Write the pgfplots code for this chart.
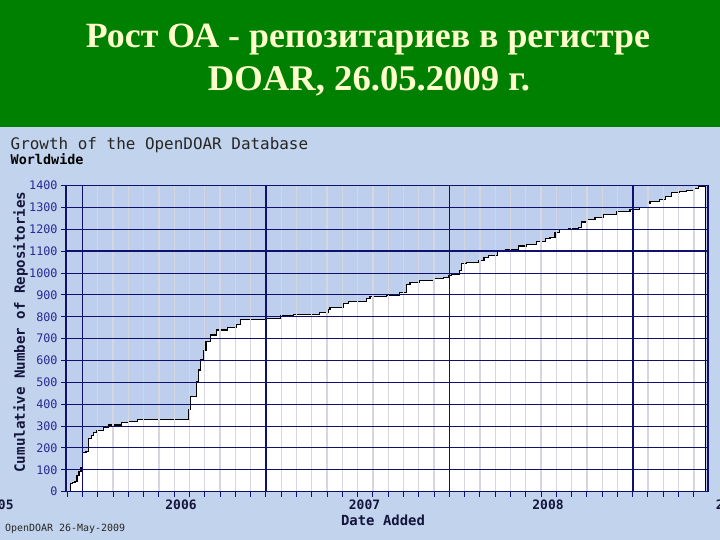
\documentclass[border=0pt]{standalone}
\usepackage{pgfplots}
\usepackage{pgfplotstable}
\pgfplotsset{compat=1.18}
\usepackage{fontspec}
\setmainfont{Liberation Serif}
\newfontfamily\monofont{DejaVu Sans Mono}
\newcommand\mono[1]{\monofont\fontsize{#1}{#1}\selectfont}

\definecolor{slidegreen}{RGB}{0,128,0}
\definecolor{titleyellow}{RGB}{255,255,204}
\definecolor{bgblue}{RGB}{194,212,237}
\definecolor{plotblue}{RGB}{189,207,236}
\definecolor{gridnavy}{RGB}{16,16,110}
\definecolor{minorgrey}{RGB}{214,214,222}
\definecolor{ticktext}{RGB}{40,40,150}
\definecolor{labeltext}{RGB}{20,20,60}

% cumulative number of repositories (x in years)
\pgfplotstableread{
x y
2005.395 0
2005.398 36
2005.409 41
2005.422 45
2005.433 74
2005.444 93
2005.455 112
2005.463 178
2005.482 185
2005.496 244
2005.510 259
2005.522 270
2005.541 280
2005.577 292
2005.604 305
2005.677 316
2005.713 321
2005.762 330
2006.040 377
2006.053 435
2006.082 503
2006.094 557
2006.107 603
2006.122 648
2006.136 686
2006.162 717
2006.195 740
2006.252 752
2006.300 765
2006.322 786
2006.363 789
2006.458 794
2006.540 804
2006.612 812
2006.757 819
2006.803 834
2006.812 842
2006.884 862
2006.912 872
2007.012 885
2007.030 895
2007.121 900
2007.193 910
2007.230 950
2007.248 956
2007.302 965
2007.375 974
2007.429 982
2007.457 991
2007.475 996
2007.520 1011
2007.530 1042
2007.557 1048
2007.620 1057
2007.651 1072
2007.675 1082
2007.724 1100
2007.766 1107
2007.838 1124
2007.884 1133
2007.938 1144
2007.984 1157
2008.011 1162
2008.038 1184
2008.065 1199
2008.111 1203
2008.165 1210
2008.184 1234
2008.211 1244
2008.256 1255
2008.301 1267
2008.374 1283
2008.447 1293
2008.501 1301
2008.547 1321
2008.556 1328
2008.610 1336
2008.638 1351
2008.674 1367
2008.719 1374
2008.756 1377
2008.792 1389
2008.819 1397
2008.856 1397
2008.856 0
}\datatable

\begin{document}
\begin{tikzpicture}
\path[use as bounding box] (0,0) rectangle (720bp,540bp);
\clip (0,0) rectangle (720bp,540bp);
\fill[bgblue] (0,0) rectangle (720bp,540bp);
\fill[slidegreen] (0,413bp) rectangle (720bp,540bp);
\node[anchor=base, inner sep=0pt, text=titleyellow] at (368bp,492.7bp)
  {\resizebox{564bp}{23.5bp}{\bfseries Рост ОА - репозитариев в регистре}};
\node[anchor=base, inner sep=0pt, text=titleyellow] at (369bp,449.3bp)
  {\resizebox{322bp}{24bp}{\bfseries DOAR, 26.05.2009 г.}};

\begin{axis}[
  at={(66bp,48.3bp)}, anchor=south west,
  scale only axis, width=642bp, height=306bp,
  xmin=2005.373, xmax=2008.872, ymin=0, ymax=1400,
  axis background/.style={fill=plotblue},
  axis on top,
  axis line style={gridnavy, line width=1.2bp},
  tick align=outside,
  xtick pos=bottom, ytick pos=left,
  major tick length=5bp, minor tick length=5bp,
  xtick={2006,2007,2008}, xticklabels={2006,2007,2008},
  major x tick style={draw=none},
  minor xtick={2005.3797,2005.4630,...,2008.80},
  minor x tick style={gridnavy, line width=1bp},
  xminorgrids, minor grid style={minorgrey, line width=1.3bp},
  ytick={0,100,...,1400},
  yticklabels={0,100,200,300,400,500,600,700,800,900,1000,1100,1200,1300,1400},
  ytick style={gridnavy, line width=1bp},
  ymajorgrids, major grid style={gridnavy, line width=1bp},
  extra x ticks={2005.463,2006.463,2007.463,2008.463},
  extra x tick labels={},
  extra x tick style={grid=major, major grid style={gridnavy, line width=1.2bp}},
  extra y ticks={1100}, extra y tick labels={},
  extra y tick style={grid=major, major grid style={gridnavy, line width=2.2bp}},
  xticklabel style={font=\mono{13}\bfseries, text=labeltext},
  yticklabel style={font=\mono{11.8}, text=ticktext},
]
\addplot[const plot mark left, fill=white, draw=none] table[x=x,y=y] {\datatable} \closedcycle;
\addplot[const plot mark left, black, line width=1.1bp] table[x=x,y=y] {\datatable};
\end{axis}

\node[anchor=base west, inner sep=0pt, text=black!85] at (10.5bp,390bp) {\mono{16}Growth of the OpenDOAR Database};
\node[anchor=base west, inner sep=0pt, text=black] at (10.5bp,375bp) {\mono{13.5}\bfseries Worldwide};
\node[rotate=90, inner sep=0pt, text=labeltext] at (20.5bp,208bp) {\mono{14.2}\bfseries Cumulative Number of Repositories};
\node[inner sep=0pt, text=labeltext] at (383bp,20bp) {\mono{14}\bfseries Date Added};
\node[anchor=west, inner sep=0pt, text=black!85] at (5bp,11bp) {\mono{10}OpenDOAR 26-May-2009};
\node[inner sep=0pt, text=labeltext] at (-2bp,35bp) {\mono{13}\bfseries 2005};
\node[inner sep=0pt, text=labeltext] at (731.5bp,35bp) {\mono{13}\bfseries 2009};
\end{tikzpicture}
\end{document}
